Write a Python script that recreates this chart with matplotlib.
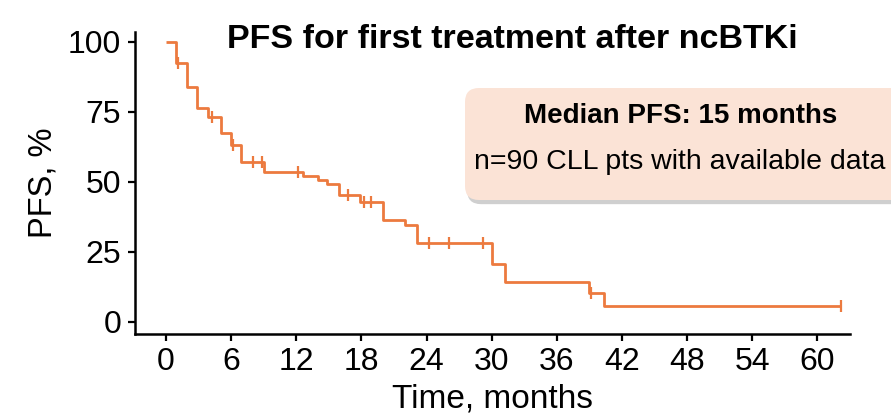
import numpy as np
import matplotlib
matplotlib.use("Agg")
import matplotlib.pyplot as plt
from matplotlib.patches import FancyBboxPatch
from matplotlib.transforms import IdentityTransform
import matplotlib.patheffects as pe

plt.rcParams['font.family'] = ['Liberation Sans', 'DejaVu Sans']

# Kaplan-Meier step curve: event times (months) and PFS (%) after each step
step_times = [0, 0.9, 1.9, 2.85, 3.9, 5.05, 6.0, 6.95, 9.0, 12.65, 14.0, 14.8,
              15.9, 17.9, 20.0, 22.0, 23.1, 30.0, 31.2, 39.0, 40.3]
step_pfs = [100, 92.3, 83.7, 76.2, 73.2, 67.3, 63.1, 57.1, 53.6, 51.9, 50.6, 49.2,
            45.3, 42.9, 36.5, 34.5, 28.0, 20.8, 14.2, 10.4, 5.5]
last_followup = 62.2

# censored observations (months)
censor_times = [1.1, 4.2, 6.2, 8.05, 8.8, 12.2, 16.8, 18.2, 18.9, 24.2, 26.1,
                29.2, 39.1, 62.2]

x_ticks = [0, 6, 12, 18, 24, 30, 36, 42, 48, 54, 60]
y_ticks = [0, 25, 50, 75, 100]

line_color = '#EC7A3F'

fig = plt.figure(figsize=(8.91, 4.15), dpi=100)
ax = fig.add_axes([0.1515, 0.195, 0.954 - 0.1515, 0.9236 - 0.195])

t = np.array(step_times + [last_followup])
s = np.array(step_pfs + [step_pfs[-1]])
ax.step(t, s, where='post', color=line_color, lw=2.0, solid_capstyle='butt')

ct = np.array(censor_times)
idx = np.searchsorted(np.array(step_times), ct, side='right') - 1
cs = np.array(step_pfs)[idx]
ax.plot(ct, cs, linestyle='none', marker='|', markersize=9, markeredgewidth=1.6,
        color=line_color)

ax.set_xlim(-2.86, 63)
ax.set_ylim(-4.4, 103.6)
ax.set_xticks(x_ticks)
ax.set_yticks(y_ticks)
ax.tick_params(labelsize=23, length=5, width=1.6, colors='black', pad=4)
ax.tick_params(axis='y', pad=5)
for side in ('top', 'right'):
    ax.spines[side].set_visible(False)
for side in ('left', 'bottom'):
    ax.spines[side].set_linewidth(1.8)

ax.set_xlabel('Time, months', fontsize=24, labelpad=5)
ax.set_ylabel('PFS, %', fontsize=23.5, labelpad=7)

fig.text(0.575, 0.905, 'PFS for first treatment after ncBTKi', ha='center',
         va='center', fontsize=24.5, fontweight='bold')

# summary box
box = FancyBboxPatch((465, 415 - 200), 460, 112,
                     boxstyle='round,pad=0,rounding_size=14',
                     transform=IdentityTransform(), facecolor='#FBE3D6',
                     edgecolor='none', zorder=5,
                     path_effects=[pe.SimplePatchShadow(offset=(1.5, -3),
                                                        shadow_rgbFace='#777777',
                                                        alpha=0.35),
                                   pe.Normal()])
fig.patches.append(box)
fig.text(681 / 891, 1 - 116 / 415, 'Median PFS: 15 months', ha='center',
         va='center', fontsize=20, fontweight='bold', zorder=6)
fig.text(680 / 891, 1 - 162 / 415, 'n=90 CLL pts with available data',
         ha='center', va='center', fontsize=20.5, zorder=6)

fig.savefig('out.png', dpi=100)
